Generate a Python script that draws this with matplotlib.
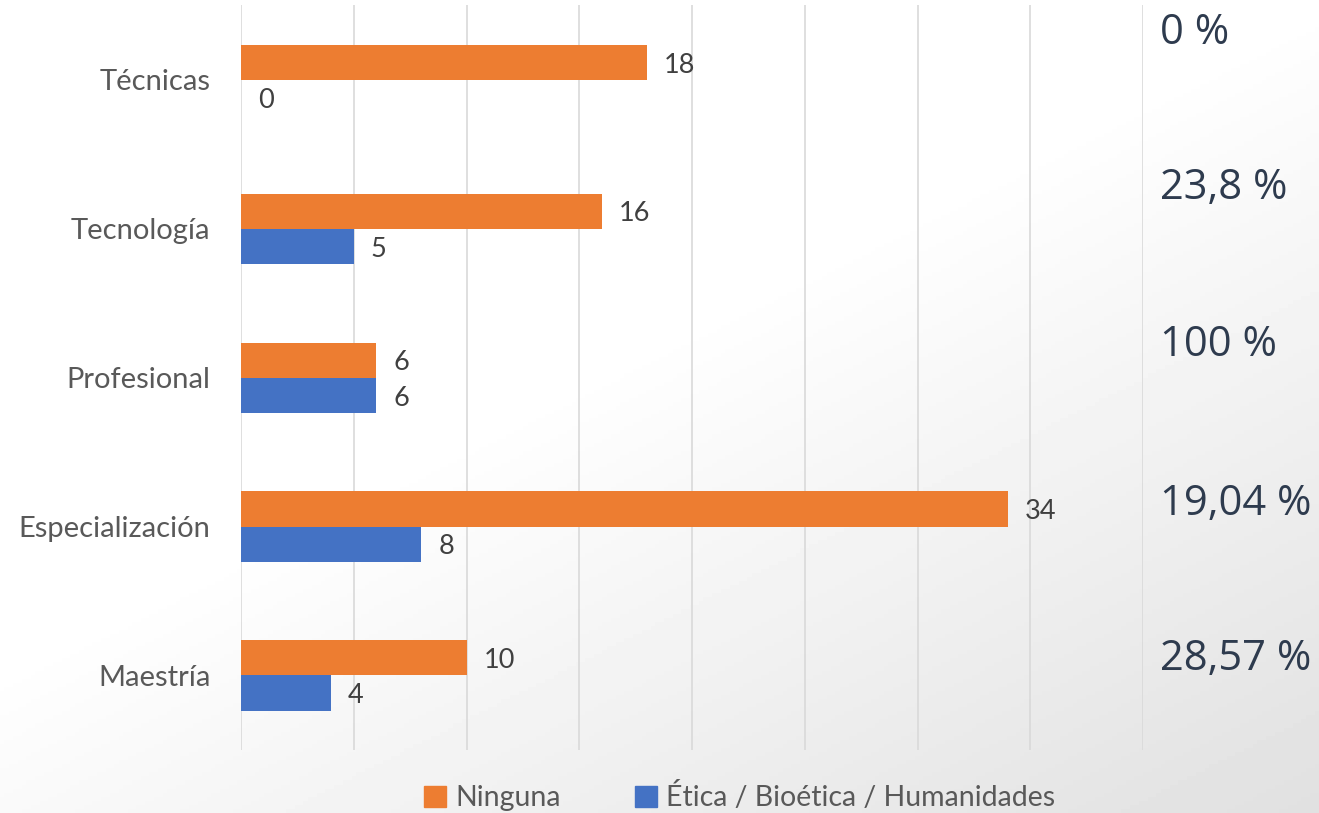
import numpy as np
import matplotlib.pyplot as plt
from matplotlib.patches import Patch

# data
categories = ["Técnicas", "Tecnología", "Profesional", "Especialización", "Maestría"]
ninguna = [18, 16, 6, 34, 10]
etica = [0, 5, 6, 8, 4]
percent_labels = ["0 %", "23,8 %", "100 %", "19,04 %", "28,57 %"]

ORANGE = "#ED7D31"
BLUE = "#4472C4"

plt.rcParams["font.family"] = ["Lato", "DejaVu Sans"]

fig = plt.figure(figsize=(13.19, 8.13), dpi=100)

# soft grey gradient background toward the bottom right
bg = fig.add_axes([0, 0, 1, 1], zorder=-10)
yy, xx = np.mgrid[0:1:200j, 0:1:300j]
shade = np.clip((xx * 0.9 + yy * 1.1 - 0.9) / 1.1, 0, 1)
bg.imshow(1 - 0.12 * shade, cmap="gray", vmin=0, vmax=1, aspect="auto",
          extent=[0, 1, 0, 1], origin="upper")
bg.axis("off")

ax = fig.add_axes([0.1827, 0.0775, 0.684, 0.9163])
ax.patch.set_alpha(0)

y = np.arange(len(categories))
h = 0.235
ax.barh(y - h / 2, ninguna, height=h, color=ORANGE, zorder=3)
ax.barh(y + h / 2, etica, height=h, color=BLUE, zorder=3)

for i in range(len(categories)):
    ax.text(ninguna[i] + 0.75, y[i] - h / 2 + 0.02, str(ninguna[i]), va="center",
            ha="left", fontsize=19.5, color="#404040")
    ax.text(etica[i] + 0.75, y[i] + h / 2 + 0.02, str(etica[i]), va="center",
            ha="left", fontsize=19.5, color="#404040")

# percentages on the right
pct_offsets = [0.31, 0.27, 0.22, 0.15, 0.11]
for i, lab in enumerate(percent_labels):
    ax.text(40.75, y[i] - pct_offsets[i], lab, va="center", ha="left",
            fontsize=30, color="#2E3B4E", clip_on=False,
            family=["Open Sans", "DejaVu Sans"])

ax.set_xlim(0, 40)
ax.set_ylim(4.5, -0.5)
ax.set_xticks(np.arange(0, 41, 5))
ax.set_xticklabels([])
ax.tick_params(axis="x", length=0)
ax.grid(axis="x", color="#d9d9d9", lw=1.2, zorder=0)
ax.set_yticks(y)
ax.set_yticklabels(categories, fontsize=21, color="#595959")
ax.tick_params(axis="y", length=0, pad=22)
for s in ax.spines.values():
    s.set_visible(False)

handles = [Patch(color=ORANGE, label="Ninguna"),
           Patch(color=BLUE, label="Ética / Bioética / Humanidades")]
fig.legend(handles=handles, loc="center", bbox_to_anchor=(0.561, 0.02), ncol=2,
           frameon=False, fontsize=20.5, labelcolor="#595959", handlelength=0.75,
           handleheight=0.75, handletextpad=0.35, columnspacing=2.6)

fig.savefig("out.png", dpi=100)
